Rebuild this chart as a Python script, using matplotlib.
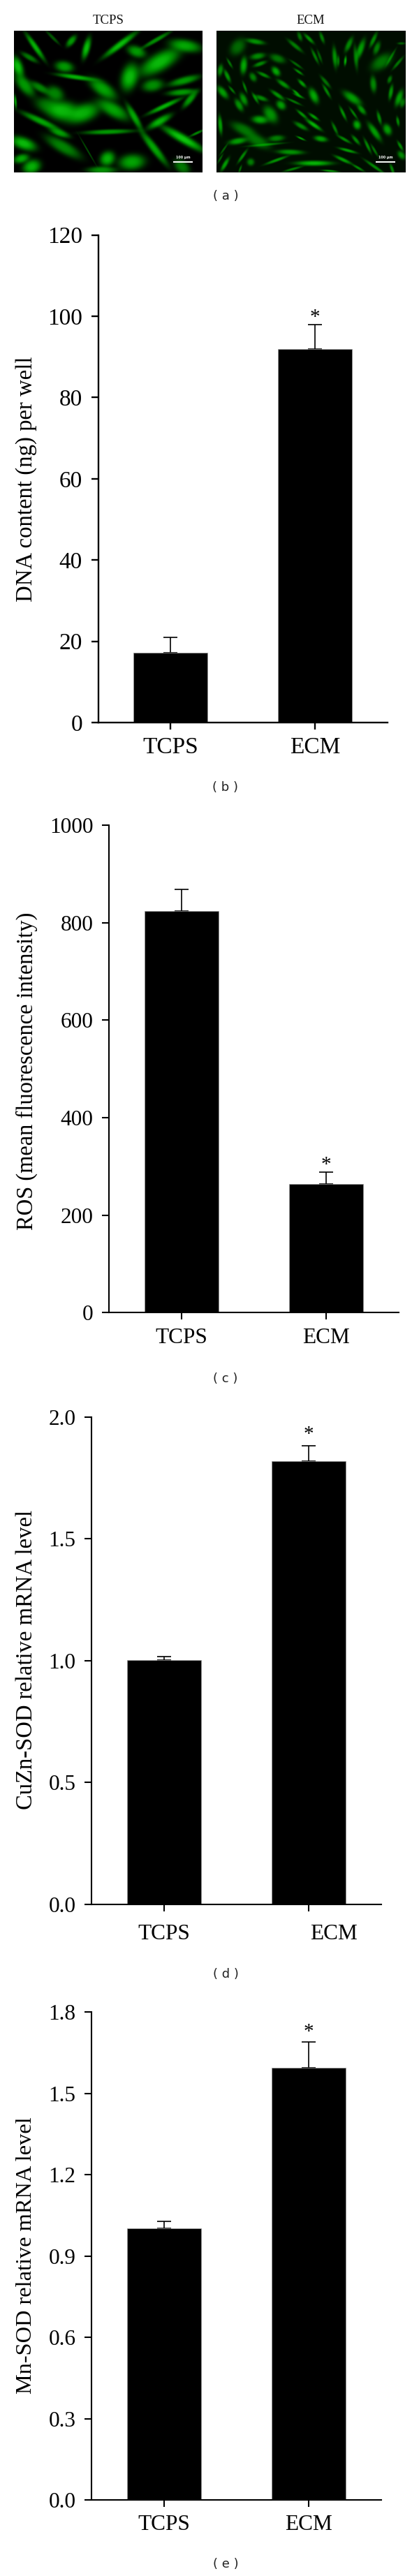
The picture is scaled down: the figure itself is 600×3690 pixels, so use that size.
import numpy as np
import matplotlib
matplotlib.use('Agg')
import matplotlib.pyplot as plt

# Bar chart data
groups = ['TCPS', 'ECM']

dna_values = [17.2, 91.9]
dna_errors = [3.8, 6.0]
dna_ticks = [0, 20, 40, 60, 80, 100, 120]
dna_tick_labels = ['0', '20', '40', '60', '80', '100', '120']

ros_values = [824, 264]
ros_errors = [44, 25]
ros_ticks = [0, 200, 400, 600, 800, 1000]
ros_tick_labels = ['0', '200', '400', '600', '800', '1000']

cuzn_values = [1.003, 1.817]
cuzn_errors = [0.013, 0.064]
cuzn_ticks = [0.0, 0.5, 1.0, 1.5, 2.0]
cuzn_tick_labels = ['0.0', '0.5', '1.0', '1.5', '2.0']

mn_values = [1.001, 1.594]
mn_errors = [0.028, 0.097]
mn_ticks = [0.0, 0.3, 0.6, 0.9, 1.2, 1.5, 1.8]
mn_tick_labels = ['0.0', '0.3', '0.6', '0.9', '1.2', '1.5', '1.8']

W, H = 600, 3690
SERIF = 'Liberation Serif'

fig = plt.figure(figsize=(W / 100, H / 100), dpi=100)
fig.patch.set_facecolor('white')


def px_axes(left, right, top, bottom):
    # axes box given in picture pixels, y measured from the top
    return fig.add_axes([left / W, 1 - bottom / H, (right - left) / W, (bottom - top) / H])


def px_text(x, y, s, **kw):
    fig.text(x / W, 1 - y / H, s, ha='center', va='center', **kw)


# Micrographs: green cells as (x, y, half length, half width, angle, brightness),
# in units of a 3x zoom of the panel
cells_tcps = [
    (105, 65, 62, 10, 55, .8), (260, 40, 26, 12, -50, .7), (325, 70, 42, 13, -75, .85),
    (180, 25, 35, 6, 45, .4), (470, 55, 78, 12, -37, .85), (625, 35, 62, 8, -30, .65),
    (540, 85, 36, 20, 20, .7), (750, 60, 60, 22, 10, .75), (640, 130, 85, 32, -30, .85),
    (510, 195, 52, 30, -75, .85), (610, 230, 40, 22, -10, .65), (745, 210, 60, 14, -15, .7),
    (735, 260, 55, 12, -5, .7), (770, 290, 40, 12, -50, .7), (660, 320, 70, 9, -25, .8),
    (230, 150, 35, 20, 10, .7), (280, 195, 75, 9, 8, .8), (80, 110, 35, 10, 30, .55),
    (30, 150, 40, 18, 70, .85), (60, 230, 50, 22, 50, .7), (125, 240, 40, 14, 30, .6),
    (190, 265, 35, 25, 30, .6), (165, 320, 55, 28, 20, .55), (225, 340, 55, 35, 0, .8),
    (310, 350, 65, 32, -20, .8), (395, 245, 60, 25, 35, .75), (440, 335, 65, 25, 30, .75),
    (530, 365, 55, 12, 60, .75), (130, 385, 80, 12, 25, .75), (210, 435, 40, 12, 20, .7),
    (420, 430, 95, 9, -2, .7), (640, 385, 50, 14, -30, .8), (225, 495, 75, 22, 30, .6),
    (615, 500, 80, 14, 52, .75), (740, 460, 90, 16, 30, .9), (800, 435, 30, 5, -25, .6),
    (415, 545, 30, 25, -40, .8), (520, 560, 50, 28, -5, .75), (390, 595, 55, 14, 0, .65),
    (55, 480, 50, 22, 20, .85), (45, 545, 30, 16, -15, .75), (90, 580, 35, 25, -20, .8),
    (735, 580, 35, 22, 40, .55), (330, 510, 60, 3, 60, .35), (20, 300, 25, 5, 85, .7),
]
cells_ecm = [
    (30, 165, 22, 10, -80, .6), (60, 190, 25, 8, 65, .65), (70, 135, 20, 5, 60, .5),
    (105, 65, 35, 25, -50, .45), (130, 145, 32, 13, -85, .75), (180, 42, 35, 10, 10, .65),
    (190, 105, 28, 12, -10, .6), (200, 138, 25, 8, -20, .6), (275, 115, 30, 15, 20, .5),
    (350, 60, 35, 8, 40, .55), (410, 30, 25, 7, 45, .65), (370, 20, 18, 8, 70, .5),
    (465, 25, 22, 7, 70, .55), (435, 105, 30, 6, 65, .55), (455, 105, 25, 5, 70, .4),
    (355, 140, 28, 5, 35, .45), (365, 172, 20, 5, 35, .6), (268, 170, 20, 13, 50, .75),
    (215, 185, 25, 7, 25, .6), (170, 195, 18, 12, 60, .55), (300, 225, 28, 9, 35, .65),
    (380, 222, 20, 7, 45, .7), (355, 262, 18, 5, 40, .7), (275, 272, 30, 8, 35, .65),
    (205, 285, 25, 9, 20, .6), (180, 285, 22, 6, 60, .6), (135, 238, 22, 5, 70, .55),
    (80, 250, 18, 5, 50, .5), (40, 260, 28, 13, 50, .7), (130, 290, 25, 12, 65, .65),
    (110, 315, 25, 12, 60, .65), (290, 315, 20, 15, 45, .7), (345, 300, 30, 5, 25, .5),
    (365, 275, 22, 5, 25, .6), (430, 275, 30, 15, 65, .75), (485, 255, 28, 6, 60, .6),
    (480, 215, 28, 7, 50, .5), (520, 110, 40, 9, 85, .65), (535, 125, 20, 5, 90, .5),
    (565, 125, 18, 5, -85, .8), (580, 55, 30, 10, -65, .6), (630, 75, 40, 12, -70, .7),
    (685, 35, 30, 8, -65, .6), (610, 110, 45, 8, 85, .5), (700, 70, 25, 11, -70, .55),
    (720, 130, 45, 25, -35, .5), (790, 135, 30, 6, -50, .5), (760, 110, 35, 5, -60, .45),
    (805, 50, 15, 5, 0, .4), (685, 225, 30, 12, 85, .6), (760, 260, 28, 8, -80, .65),
    (795, 285, 32, 12, -70, .7), (755, 205, 15, 8, -70, .5), (810, 305, 18, 10, -75, .5),
    (595, 285, 40, 16, 35, .7), (635, 335, 22, 10, 50, .65), (555, 350, 28, 6, 65, .65),
    (600, 350, 25, 5, 55, .55), (615, 400, 18, 14, 70, .75), (520, 415, 25, 6, 65, .55),
    (430, 365, 22, 6, 35, .7), (380, 355, 25, 6, 40, .65), (430, 400, 35, 8, 35, .8),
    (375, 405, 28, 9, 30, .6), (245, 355, 35, 22, 55, .65), (200, 378, 30, 15, 5, .75),
    (130, 420, 50, 20, 25, .5), (30, 400, 35, 8, 85, .7), (105, 470, 35, 12, -10, .7),
    (190, 470, 50, 22, 25, .5), (270, 458, 30, 12, -5, .55), (460, 460, 25, 11, 10, .7),
    (375, 458, 18, 4, 25, .7), (560, 462, 28, 6, 30, .6), (610, 465, 22, 7, 50, .6),
    (690, 430, 40, 12, 55, .7), (710, 370, 25, 7, 75, .6), (745, 420, 22, 15, 65, .7),
    (790, 385, 18, 6, 80, .6), (800, 490, 20, 6, 60, .6), (805, 530, 18, 12, 50, .6),
    (660, 490, 30, 6, 65, .6), (690, 510, 25, 5, 60, .5), (575, 510, 35, 6, 15, .7),
    (555, 550, 35, 7, 25, .7), (690, 580, 45, 6, 35, .6), (620, 585, 25, 5, 30, .6),
    (765, 590, 20, 6, 70, .6), (430, 565, 70, 10, 0, .8), (340, 590, 35, 5, -15, .55),
    (270, 552, 45, 6, -20, .65), (330, 517, 50, 10, 2, .65), (225, 485, 70, 5, -5, .5),
    (160, 560, 14, 14, 0, .55), (125, 535, 30, 6, -55, .6), (50, 570, 28, 8, -60, .7),
    (45, 505, 25, 4, -55, .4), (115, 590, 15, 4, -70, .5), (500, 598, 30, 4, 5, .7),
    (30, 545, 20, 4, -60, .4),
]


def micrograph(cells, background, fatten):
    yy, xx = np.mgrid[-3:606:3.0, 15:825:3.0]
    dark = np.full(xx.shape, 1.0 - background)
    for cx, cy, a, b, angle, level in cells:
        t = np.radians(angle)
        u = (xx - cx) * np.cos(t) + (yy - cy) * np.sin(t)
        v = -(xx - cx) * np.sin(t) + (yy - cy) * np.cos(t)
        # flat-topped spindle instead of a plain gaussian, cells have fairly hard edges
        r2 = (u / (a * 1.1)) ** 2 + (v / (b * fatten)) ** 2
        dark *= 1 - level * np.exp(-r2 ** 1.4)
    field = (1 - dark) * 0.85
    img = np.zeros(xx.shape + (3,))
    img[..., 1] = np.clip(field, 0, 1)
    img[..., 0] = np.clip(field - 0.6, 0, 1) * 0.35
    img[..., 2] = np.clip(field - 0.6, 0, 1) * 0.35
    return img


for cells, x0, bg, fatten, name in [(cells_tcps, 20, 0.0, 1.15, groups[0]),
                                    (cells_ecm, 310, 0.06, 1.1, groups[1])]:
    ax = px_axes(x0, x0 + 270, 44, 247)
    ax.imshow(micrograph(cells, bg, fatten), aspect='auto', interpolation='bilinear', extent=[0, 270, 203, 0])
    ax.axis('off')
    # scale bar
    ax.plot([228, 256], [187.5, 187.5], color='white', lw=1.4, solid_capstyle='butt')
    ax.text(242, 182, '100 μm', color='white', fontsize=3.5, ha='center', va='center',
            family='DejaVu Sans', weight='bold')
    px_text(x0 + 135, 29, name, family=SERIF, fontsize=13.5, color='#111111')

px_text(323, 281, '( a )', family='DejaVu Sans', fontsize=13, color='#222222')


def bar_panel(values, errors, ticks, tick_labels, ylabel, box, ylabel_y, ylabel_len,
              tick_size, star, star_offset, ecm_label_x, label_y, caption, caption_y, lw):
    left, right, top, bottom = box
    ax = px_axes(left, right, top, bottom)
    xs = np.arange(len(groups))
    ax.bar(xs, values, width=0.51, color='black', edgecolor='#9a9a9a', linewidth=0.5, zorder=2)
    ax.errorbar(xs, values, yerr=[[0, 0], errors], fmt='none', ecolor='black',
                elinewidth=1.2, capsize=7.2, capthick=1.2, zorder=1)
    ax.set_xlim(-0.5, 1.5)
    ax.set_ylim(ticks[0], ticks[-1])
    ax.set_xticks(xs)
    ax.set_xticklabels([])
    ax.set_yticks(ticks)
    ax.set_yticklabels(tick_labels, family=SERIF, fontsize=tick_size)
    ax.tick_params(axis='x', length=7.2, width=lw)
    ax.tick_params(axis='y', length=7.2, width=lw, pad=9)
    for side in ['top', 'right']:
        ax.spines[side].set_visible(False)
    for side in ['left', 'bottom']:
        ax.spines[side].set_linewidth(lw)
        ax.spines[side].set_capstyle('projecting')
    ax.patch.set_alpha(0)
    # significance star above the error bar
    ax.annotate('*', xy=(star, values[star] + errors[star]), xytext=(0, star_offset),
                textcoords='offset pixels', ha='center', va='center', family=SERIF, fontsize=21)
    # group labels under the axis
    unit = (right - left) / 2
    px_text(left + unit * 0.5, label_y, groups[0], family=SERIF, fontsize=tick_size)
    px_text(ecm_label_x, label_y, groups[1], family=SERIF, fontsize=tick_size)
    # y label, font size fitted to the length it has in the picture
    label = fig.text(38 / W, 1 - ylabel_y / H, ylabel, rotation=90, ha='center', va='center',
                     family=SERIF, fontsize=24)
    length = label.get_window_extent(fig.canvas.get_renderer()).height
    label.set_fontsize(24 * ylabel_len / length)
    px_text(323, caption_y, caption, family='DejaVu Sans', fontsize=13, color='#222222')


bar_panel(dna_values, dna_errors, dna_ticks, dna_tick_labels, 'DNA content (ng) per well',
          (140.5, 554.5, 336.6, 1035), 686, 352, 24, 1, 10, 451, 1071, '( b )', 1128, 1.7)
bar_panel(ros_values, ros_errors, ros_ticks, ros_tick_labels, 'ROS (mean fluorescence intensity)',
          (156, 570.6, 1182, 1880.5), 1534, 457, 22.5, 1, 10, 467, 1917, '( c )', 1975, 1.5)
bar_panel(cuzn_values, cuzn_errors, cuzn_ticks, cuzn_tick_labels, 'CuZn-SOD relative mRNA level',
          (131, 545.7, 2029.6, 2727.6), 2377, 429, 22.5, 1, 16, 478, 2770, '( d )', 2828, 1.5)
bar_panel(mn_values, mn_errors, mn_ticks, mn_tick_labels, 'Mn-SOD relative mRNA level',
          (131, 545.7, 2882.3, 3581), 3231, 398, 22.5, 1, 14, 442, 3617, '( e )', 3673, 1.5)

fig.savefig('out.png', dpi=100, facecolor='white')
